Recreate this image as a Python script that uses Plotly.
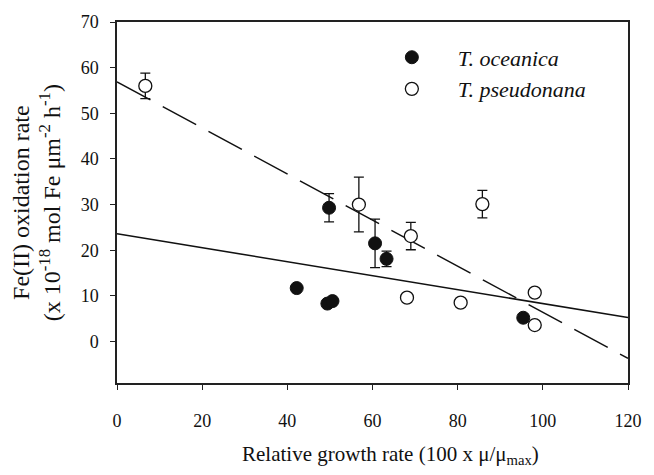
import plotly.graph_objects as go

# T. oceanica (filled)
ocean_x = [49.8, 60.6, 63.3, 42.2, 49.4, 50.6, 95.4]
ocean_y = [29.3, 21.5, 18.1, 11.7, 8.3, 8.85, 5.2]
ocean_err = [3.1, 5.3, 1.7, None, None, None, None]

# T. pseudonana (open)
pseudo_x = [6.65, 56.8, 69.0, 85.8, 68.1, 80.7, 98.1, 98.1]
pseudo_y = [56.0, 30.0, 23.1, 30.1, 9.6, 8.5, 10.7, 3.6]
pseudo_err = [2.8, 6.0, 3.0, 3.0, 0.8, None, None, None]

# regression lines
fit_x = [0, 120]
solid_intercept, solid_slope = 23.6, -0.153
dashed_intercept, dashed_slope = 56.9, -0.505

x_ticks = [0, 20, 40, 60, 80, 100, 120]
y_ticks = [0, 10, 20, 30, 40, 50, 60, 70]

FONT = "Liberation Serif"
INK = "#111111"

fig = go.Figure()
fig.add_trace(go.Scatter(
    x=fit_x, y=[solid_intercept + solid_slope * v for v in fit_x],
    mode="lines", line=dict(color=INK, width=1.5), showlegend=False, hoverinfo="skip"))
fig.add_trace(go.Scatter(
    x=fit_x, y=[dashed_intercept + dashed_slope * v for v in fit_x],
    mode="lines", line=dict(color=INK, width=1.5, dash="38px,14px"), showlegend=False, hoverinfo="skip"))

fig.add_trace(go.Scatter(
    x=ocean_x, y=ocean_y, mode="markers", name="<i>T. oceanica</i>", legendgroup="a",
    marker=dict(symbol="circle", size=13, color=INK, line=dict(color=INK, width=1)),
    error_y=dict(type="data", array=ocean_err, visible=True, color=INK, thickness=1.3, width=5)))
fig.add_trace(go.Scatter(
    x=pseudo_x, y=pseudo_y, mode="markers", name="<i>T. pseudonana</i>", legendgroup="b",
    marker=dict(symbol="circle", size=13, color="white", line=dict(color=INK, width=1.3)),
    error_y=dict(type="data", array=pseudo_err, visible=True, color=INK, thickness=1.3, width=5)))

axis_common = dict(
    showline=True, linecolor="#222222", linewidth=1.5, mirror=True,
    ticks="outside", ticklen=5, tickwidth=1.3, tickcolor="#222222",
    showgrid=False, zeroline=False,
    tickfont=dict(family=FONT, size=18, color=INK),
)

fig.update_xaxes(range=[0, 120], tickvals=x_ticks, ticklabelstandoff=16, **axis_common)
fig.update_yaxes(range=[-9.1, 70], tickvals=y_ticks, ticklabelstandoff=8, **axis_common)

fig.add_annotation(
    text="Fe(II) oxidation rate<br>(x 10<sup>-18</sup> mol Fe \u03bcm<sup>-2</sup> h<sup>-1</sup>)",
    xref="paper", yref="paper", x=-0.157, y=0.5, xanchor="center", yanchor="middle",
    textangle=-90, showarrow=False, font=dict(family=FONT, size=24, color=INK))
fig.add_annotation(
    text="Relative growth rate (100 x \u03bc/\u03bc<sub>max</sub>)",
    xref="paper", yref="paper", x=0.535, y=-0.2, xanchor="center", yanchor="middle",
    showarrow=False, font=dict(family=FONT, size=21, color=INK))

fig.update_layout(
    width=654, height=475,
    margin=dict(l=117, r=20, t=19, b=92),
    paper_bgcolor="white", plot_bgcolor="white",
    font=dict(family=FONT, color=INK),
    showlegend=True,
    legend=dict(x=0.487, y=0.96, xanchor="left", yanchor="top",
                bgcolor="rgba(0,0,0,0)", font=dict(family=FONT, size=22, color=INK),
                tracegroupgap=0, itemwidth=82),
)

fig.write_html("out.html")
